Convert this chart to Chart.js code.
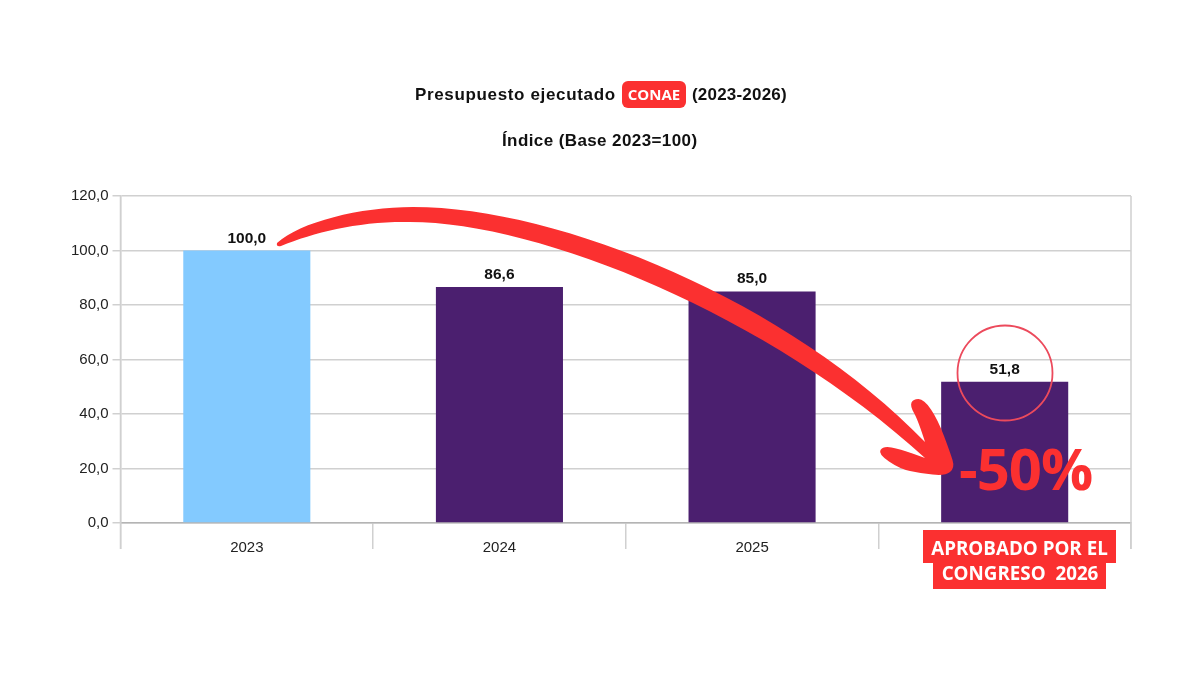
<!DOCTYPE html>
<html>
<head>
<meta charset="utf-8">
<title>Presupuesto ejecutado CONAE</title>
<script src="https://cdn.jsdelivr.net/npm/chart.js@4"></script>
<style>
  html, body { margin: 0; padding: 0; background: #ffffff; }
  #wrap { width: 1200px; height: 675px; }
</style>
</head>
<body>
<div id="wrap"><canvas id="chart" width="1200" height="675"></canvas></div>
<script>
// Datos
const years  = ['2023', '2024', '2025', ''];
const values = [100.0, 86.6, 85.0, 51.8];
const colors = ['#83caff', '#4b1f6f', '#4b1f6f', '#4b1f6f'];

const RED  = '#fb3030';
const GRID = '#d0d0d0';
const fmt  = v => v.toFixed(1).replace('.', ',');

// Etiquetas de valor encima de cada barra
const valueLabels = {
    id: 'valueLabels',
    afterDatasetsDraw(chart) {
        const { ctx } = chart;
        const meta = chart.getDatasetMeta(0);
        ctx.save();
        ctx.font = 'bold 15.5px "Liberation Sans"';
        ctx.fillStyle = '#111111';
        ctx.textAlign = 'center';
        ctx.textBaseline = 'alphabetic';
        meta.data.forEach((bar, i) => ctx.fillText(fmt(values[i]), bar.x, bar.y - 8));
        ctx.restore();
    }
};

// Marco del area: lineas izquierda y derecha bajan hasta las marcas del eje X
const plotFrame = {
    id: 'plotFrame',
    beforeDatasetsDraw(chart) {
        const { ctx, chartArea: a } = chart;
        ctx.save();
        ctx.strokeStyle = GRID;
        ctx.lineWidth = 1.5;
        ctx.beginPath();
        ctx.moveTo(a.left, a.top);
        ctx.lineTo(a.left, a.bottom + 26);
        ctx.moveTo(a.right, a.top);
        ctx.lineTo(a.right, a.bottom + 26);
        ctx.stroke();
        ctx.restore();
    }
};

function badge(ctx, x, y, w, h, r) {
    ctx.beginPath();
    ctx.roundRect(x, y, w, h, r);
    ctx.fill();
}

// Traza un tramo suave pasando por los puntos medios
function smooth(ctx, pts) {
    ctx.lineTo(pts[0][0], pts[0][1]);
    for (let i = 1; i < pts.length - 1; i++) {
        const mx = (pts[i][0] + pts[i + 1][0]) / 2;
        const my = (pts[i][1] + pts[i + 1][1]) / 2;
        ctx.quadraticCurveTo(pts[i][0], pts[i][1], mx, my);
    }
    const last = pts[pts.length - 1];
    ctx.lineTo(last[0], last[1]);
}

// Titulos, flecha, circulo y carteles rojos
const overlay = {
    id: 'overlay',
    afterDraw(chart) {
        const { ctx } = chart;
        ctx.save();

        // titulo
        ctx.textBaseline = 'alphabetic';
        ctx.textAlign = 'left';
        ctx.fillStyle = '#111111';
        ctx.font = 'bold 17px "Liberation Sans"';
        ctx.letterSpacing = '0.65px';
        ctx.fillText('Presupuesto ejecutado', 415, 100);
        ctx.letterSpacing = '0.2px';
        ctx.fillText('(2023-2026)', 692, 100);
        ctx.letterSpacing = '0.4px';
        ctx.fillText('Índice (Base 2023=100)', 502, 145.5);
        ctx.letterSpacing = '0px';

        ctx.fillStyle = RED;
        badge(ctx, 622, 81, 64, 27, 6);
        ctx.fillStyle = '#ffffff';
        ctx.font = 'bold 15px "Open Sans"';
        ctx.textAlign = 'center';
        ctx.fillText('CONAE', 654, 100);

        // flecha
        ctx.fillStyle = RED;
        ctx.beginPath();
        ctx.moveTo(277, 243);
        ctx.bezierCurveTo(300, 222, 360, 207, 413, 207);
        ctx.bezierCurveTo(560, 207, 790, 302, 925, 442);
        smooth(ctx, [[925, 442], [918, 420], [910, 406], [913, 399], [924, 399], [938, 420], [950, 452], [955, 468],
                     [945, 476], [920, 473], [900, 469], [878, 454], [883, 446], [900, 449], [925, 458]]);
        ctx.bezierCurveTo(770, 316, 540, 222, 410, 222);
        ctx.bezierCurveTo(360, 221, 315, 232, 281, 246);
        ctx.quadraticCurveTo(276, 247, 277, 243);
        ctx.closePath();
        ctx.fill();

        // circulo sobre 51,8
        ctx.strokeStyle = '#ec4a5c';
        ctx.lineWidth = 1.8;
        ctx.beginPath();
        ctx.arc(1005, 373, 47.5, 0, Math.PI * 2);
        ctx.stroke();

        // -50%
        ctx.fillStyle = RED;
        ctx.font = 'bold 58px "Open Sans"';
        ctx.textAlign = 'left';
        ctx.letterSpacing = '-1px';
        ctx.fillText('-50%', 959, 490);
        ctx.letterSpacing = '0px';

        // cartel aprobado
        ctx.fillStyle = RED;
        ctx.fillRect(923, 530, 193, 33);
        ctx.fillRect(933, 563, 173, 26);
        ctx.fillStyle = '#ffffff';
        ctx.font = 'bold 18.8px "Open Sans"';
        ctx.textAlign = 'center';
        ctx.fillText('APROBADO POR EL', 1019.5, 555);
        ctx.fillText('CONGRESO  2026', 1020, 580);

        ctx.restore();
    }
};

new Chart(document.getElementById('chart').getContext('2d'), {
    type: 'bar',
    plugins: [plotFrame, valueLabels, overlay],
    data: {
        labels: years,
        datasets: [{
            data: values,
            backgroundColor: colors,
            borderWidth: 0,
            barPercentage: 0.503,
            categoryPercentage: 1
        }]
    },
    options: {
        responsive: false,
        animation: false,
        layout: { padding: { top: 196, right: 69, bottom: 0, left: 0 } },
        plugins: { legend: { display: false }, tooltip: { enabled: false }, title: { display: false } },
        scales: {
            x: {
                afterFit: s => { s.height = 152; },
                border: { color: '#b4b4b4', width: 1.5 },
                grid: { drawOnChartArea: false, drawTicks: true, tickLength: 26, color: GRID, lineWidth: 1.5, offset: true },
                ticks: {
                    color: '#222222',
                    padding: -10,
                    maxRotation: 0,
                    font: { family: '"Liberation Sans"', size: 15 }
                }
            },
            y: {
                min: 0,
                max: 120,
                afterFit: s => { s.width = 120.5; },
                border: { color: GRID, width: 1.5 },
                grid: { color: GRID, lineWidth: 1.5, tickLength: 8 },
                ticks: {
                    stepSize: 20,
                    color: '#222222',
                    padding: 4,
                    callback: v => fmt(v),
                    font: { family: '"Liberation Sans"', size: 15 }
                }
            }
        }
    }
});
</script>
</body>
</html>
